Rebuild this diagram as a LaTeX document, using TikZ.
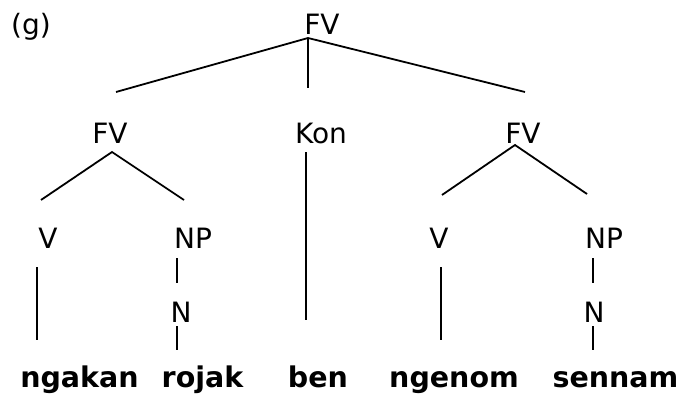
\documentclass[tikz,border=0pt]{standalone}
\usepackage{fontspec}
\setmainfont{DejaVu Sans}
\begin{document}
\begin{tikzpicture}[x=1pt,y=-1pt,
  lbl/.style={anchor=base,inner sep=0pt,font=\fontsize{28}{30}\selectfont},
  word/.style={anchor=base,inner sep=0pt,font=\fontsize{28.5}{30}\selectfont\bfseries},
  branch/.style={line width=1.8pt},
  stem/.style={line width=1.7pt}]
\useasboundingbox (0,0) rectangle (681,396);
% labels
\node[lbl] (g) at (31,35) {(g)};
\node[lbl] (fv0) at (322,35) {FV};
\node[lbl] (fv1) at (110,143) {FV};
\node[lbl] (kon) at (321,143) {Kon};
\node[lbl] (fv2) at (523,143) {FV};
\node[lbl] (v1) at (48,248) {V};
\node[lbl] (np1) at (193,248) {NP};
\node[lbl] (v2) at (439,248) {V};
\node[lbl] (np2) at (604,248) {NP};
\node[lbl] (n1) at (181,322) {N};
\node[lbl] (n2) at (594,322) {N};
\node[word] (w1) at (79.5,387) {ngakan};
\node[word] (w2) at (202.5,387) {rojak};
\node[word] (w3) at (318,387) {ben};
\node[word] (w4) at (454,387) {ngenom};
\node[word] (w5) at (615.5,387) {sennam};
% connector end points
\coordinate (a0) at (308,38);
\coordinate (a0l) at (116,92);
\coordinate (a0m) at (308,88);
\coordinate (a0r) at (525,92);
\coordinate (a1) at (112,152);
\coordinate (a1l) at (41,200);
\coordinate (a1r) at (184,200);
\coordinate (k0) at (306,152);
\coordinate (k1) at (306,320);
\coordinate (a2) at (515,145);
\coordinate (a2l) at (442,195);
\coordinate (a2r) at (587,194);
\coordinate (v1t) at (37,267);
\coordinate (v1b) at (37,340);
\coordinate (v2t) at (441,267);
\coordinate (v2b) at (441,340);
\coordinate (p1t) at (177,258);
\coordinate (p1b) at (177,283);
\coordinate (m1t) at (177,326);
\coordinate (m1b) at (177,350);
\coordinate (p2t) at (593,258);
\coordinate (p2b) at (593,283);
\coordinate (m2t) at (593,326);
\coordinate (m2b) at (593,350);
% connectors
\draw[branch] (a0l) -- (a0) -- (a0r);
\draw[stem] (a0) -- (a0m);
\draw[branch] (a1l) -- (a1) -- (a1r);
\draw[branch] (a2l) -- (a2) -- (a2r);
\draw[stem] (k0) -- (k1);
\draw[stem] (v1t) -- (v1b);
\draw[stem] (v2t) -- (v2b);
\draw[stem] (p1t) -- (p1b);
\draw[stem] (m1t) -- (m1b);
\draw[stem] (p2t) -- (p2b);
\draw[stem] (m2t) -- (m2b);
\end{tikzpicture}
\end{document}
